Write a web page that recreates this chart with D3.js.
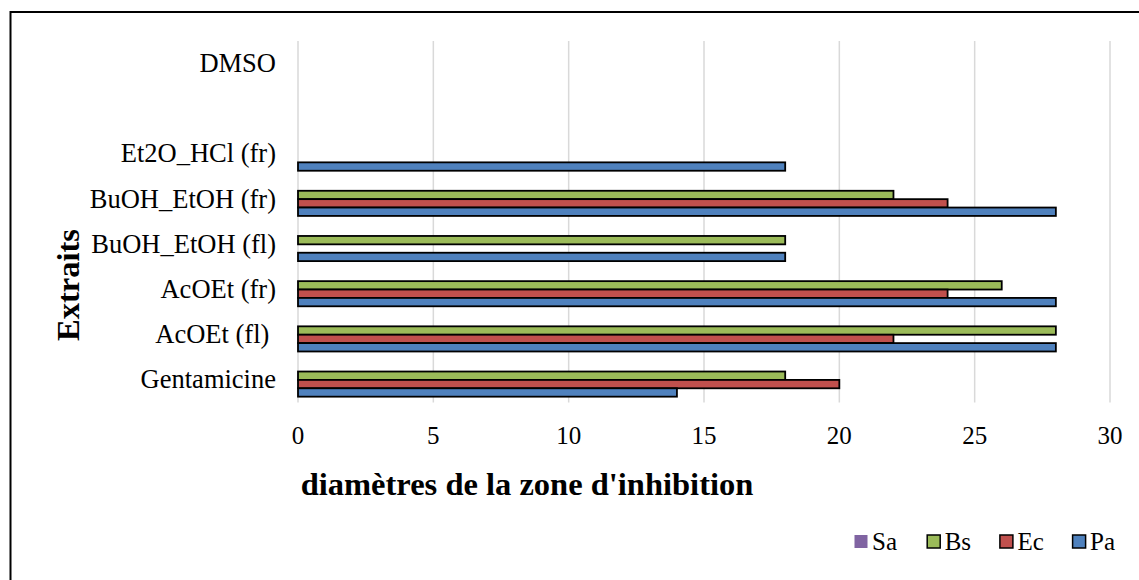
<!DOCTYPE html>
<html>
<head>
<meta charset="utf-8">
<script src="https://cdn.jsdelivr.net/npm/d3@7/dist/d3.min.js"></script>
<style>
  html, body { margin: 0; padding: 0; background: #fff; }
  svg { display: block; font-family: "Liberation Serif", "Times New Roman", serif; }
  text { white-space: pre; }
</style>
</head>
<body>
<svg id="chart" width="1139" height="580"></svg>
<script>
// Extracts (top to bottom); the second row is an empty spacer row
const categories = ["DMSO", "", "Et2O_HCl (fr)", "BuOH_EtOH (fr)", "BuOH_EtOH (fl)", "AcOEt (fr)", "AcOEt (fl) ", "Gentamicine"];
const series = ["Sa", "Bs", "Ec", "Pa"];
// Inhibition zone diameters per strain (null = no inhibition)
const valuesSa = [null, null, null, null, null, null, null, null];
const valuesBs = [null, null, null, 22, 18, 26, 28, 18];
const valuesEc = [null, null, null, 24, null, 24, 22, 20];
const valuesPa = [null, null, 18, 28, 18, 28, 28, 14];
const xTicks = [0, 5, 10, 15, 20, 25, 30];
const colors = { Sa: "#8064A2", Bs: "#9BBB59", Ec: "#C0504D", Pa: "#4F81BD" };
const outlined = { Sa: false, Bs: true, Ec: true, Pa: true };

const svg = d3.select("#chart");

// Outer frame
svg.append("rect")
  .attr("x", 10.5).attr("y", 12).attr("width", 1140).attr("height", 600)
  .attr("fill", "none").attr("stroke", "#000").attr("stroke-width", 2);

const x = d3.scaleLinear().domain([0, 30]).range([298, 1110]);
const y = d3.scaleBand().domain(d3.range(categories.length)).range([41, 402.5])
  .paddingInner(0.258).paddingOuter(0.129);
const ySub = d3.scaleBand().domain(series).range([0, y.bandwidth()]);

// Vertical gridlines
svg.append("g").selectAll("line").data(xTicks).join("line")
  .attr("x1", d => x(d)).attr("x2", d => x(d))
  .attr("y1", 41).attr("y2", 402.5)
  .attr("stroke", "#d9d9d9").attr("stroke-width", 1.5);

// Bars
const valueBySeries = { Sa: valuesSa, Bs: valuesBs, Ec: valuesEc, Pa: valuesPa };
const barData = [];
series.forEach(s => {
  valueBySeries[s].forEach((v, i) => {
    if (v != null && v > 0) barData.push({ s, i, v });
  });
});
svg.append("g").selectAll("rect").data(barData).join("rect")
  .attr("x", x(0))
  .attr("y", d => y(d.i) + ySub(d.s))
  .attr("width", d => x(d.v) - x(0))
  .attr("height", ySub.bandwidth())
  .attr("fill", d => colors[d.s])
  .attr("stroke", "#000").attr("stroke-width", 1.8);

// X tick labels
svg.append("g").selectAll("text").data(xTicks).join("text")
  .attr("x", d => x(d)).attr("y", 444)
  .attr("text-anchor", "middle")
  .attr("font-size", 25)
  .text(d => d);

// Category labels
svg.append("g").selectAll("text").data(categories).join("text")
  .attr("x", 276)
  .attr("y", (d, i) => y(i) + y.bandwidth() / 2 + 8.5)
  .attr("text-anchor", "end")
  .attr("font-size", 26.5)
  .text(d => d);

// Axis titles
svg.append("text")
  .attr("x", 527).attr("y", 495)
  .attr("text-anchor", "middle")
  .attr("font-size", 32.5).attr("font-weight", "bold")
  .text("diamètres de la zone d'inhibition");

svg.append("text")
  .attr("transform", "translate(79,285) rotate(-90)")
  .attr("text-anchor", "middle")
  .attr("font-size", 32.5).attr("font-weight", "bold")
  .text("Extraits");

// Legend
const legend = svg.append("g").selectAll("g").data(series).join("g")
  .attr("transform", (d, i) => `translate(${854 + i * 72.7},0)`);
legend.append("rect")
  .attr("x", 0.5).attr("y", 535).attr("width", 13).attr("height", 13)
  .attr("fill", d => colors[d])
  .attr("stroke", d => outlined[d] ? "#000" : "none")
  .attr("stroke-width", 1.5);
legend.append("text")
  .attr("x", 18).attr("y", 550)
  .attr("font-size", 25)
  .text(d => d);
</script>
</body>
</html>
